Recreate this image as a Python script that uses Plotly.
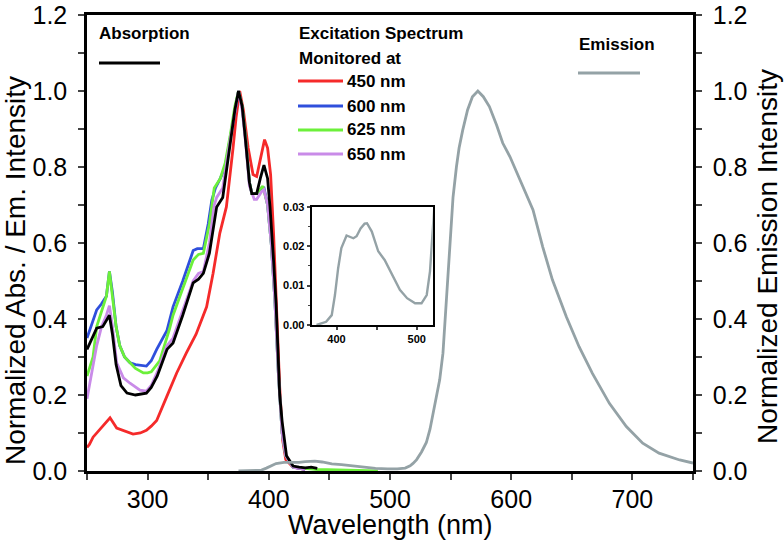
import plotly.graph_objects as go

# ---------------- data ----------------
abs_nm = [250, 254, 258, 263, 266, 268.5, 271, 274, 278, 283, 290, 299, 303, 308, 316, 321, 329,
          337.6, 342, 346, 351, 355, 357, 362, 368, 372, 375, 378, 380, 384, 386, 390, 393, 396,
          399, 401, 404, 406, 409, 411, 414.6, 420, 425, 430, 435, 440]
abs_val = [0.32, 0.35, 0.376, 0.38, 0.395, 0.41, 0.36, 0.28, 0.225, 0.205, 0.2, 0.205, 0.22, 0.25,
           0.32, 0.337, 0.41, 0.495, 0.505, 0.52, 0.573, 0.66, 0.695, 0.72, 0.853, 0.95, 1.0, 0.96,
           0.897, 0.76, 0.73, 0.73, 0.77, 0.805, 0.77, 0.695, 0.55, 0.44, 0.2, 0.13, 0.04, 0.013,
           0.01, 0.008, 0.01, 0.007]

ex450_nm = [250, 252, 255, 258, 260.7, 265, 269, 274.5, 280, 288, 294, 299, 303, 307.5, 315.7, 324,
            332, 340, 348.7, 354, 359.6, 365, 370.5, 373, 376, 379, 383, 387, 390, 393, 396.5, 399,
            401.5, 404, 406.5, 409, 411.5, 414, 420, 430]
ex450_val = [0.062, 0.07, 0.089, 0.1, 0.107, 0.125, 0.14, 0.113, 0.107, 0.097, 0.1, 0.107, 0.118,
             0.133, 0.195, 0.258, 0.311, 0.36, 0.432, 0.52, 0.626, 0.695, 0.85, 0.93, 1.0, 0.95,
             0.85, 0.78, 0.775, 0.82, 0.872, 0.85, 0.78, 0.62, 0.42, 0.22, 0.08, 0.03, 0.01, 0.004]

ex600_nm = [250, 255, 258, 262, 266, 268.5, 271, 274, 277, 281, 285.5, 290, 295, 299, 303, 307.5,
            316, 321, 329, 337.6, 341, 346, 350, 353, 356, 360, 364, 368, 372, 375, 378, 381, 384,
            386, 390, 394, 396, 399, 402, 405, 408, 411, 414, 420, 430]
ex600_val = [0.35, 0.4, 0.424, 0.44, 0.46, 0.525, 0.47, 0.38, 0.33, 0.3, 0.285, 0.28, 0.278, 0.276,
             0.29, 0.32, 0.37, 0.432, 0.5, 0.58, 0.585, 0.585, 0.65, 0.713, 0.745, 0.77, 0.8, 0.87,
             0.95, 1.0, 0.96, 0.87, 0.76, 0.73, 0.73, 0.745, 0.745, 0.7, 0.6, 0.45, 0.25, 0.1, 0.04,
             0.01, 0.004]

ex625_nm = [250, 255, 258, 262, 266, 268.5, 271, 274, 277, 281, 285.5, 290, 296.5, 300, 303, 310,
            318, 321, 329, 337.6, 342, 346, 351, 355, 360, 364, 368, 372, 375, 378, 381, 384, 386,
            390, 395, 399, 402, 405, 408, 411, 414, 420, 440, 460, 480, 490]
ex625_val = [0.25, 0.3, 0.38, 0.42, 0.46, 0.525, 0.46, 0.38, 0.33, 0.3, 0.285, 0.27, 0.258, 0.258,
             0.261, 0.29, 0.373, 0.41, 0.48, 0.555, 0.57, 0.573, 0.65, 0.745, 0.77, 0.81, 0.88,
             0.96, 1.0, 0.96, 0.87, 0.76, 0.73, 0.73, 0.75, 0.7, 0.6, 0.45, 0.25, 0.1, 0.04, 0.01,
             0.004, 0.002, 0.001, 0.0]

ex650_nm = [250, 254, 258, 262, 266, 268.5, 271, 274.5, 280, 285.5, 293.7, 299, 303, 308, 316, 321,
            329, 337.6, 342, 346, 351, 355, 357, 362, 368, 372, 375, 378, 381, 384, 388, 390, 394,
            396, 399, 402, 405, 408, 411, 414, 420, 430]
ex650_val = [0.19, 0.258, 0.33, 0.38, 0.41, 0.435, 0.38, 0.285, 0.245, 0.231, 0.213, 0.21, 0.225,
             0.26, 0.33, 0.35, 0.42, 0.5, 0.52, 0.525, 0.6, 0.7, 0.72, 0.745, 0.87, 0.95, 1.0,
             0.95, 0.86, 0.75, 0.715, 0.715, 0.735, 0.74, 0.7, 0.6, 0.45, 0.25, 0.1, 0.04, 0.01,
             0.004]

em_nm = [375, 387, 394, 398, 402, 406, 412.5, 418, 421, 425, 430, 435, 438, 444, 452, 460, 471,
         479, 488, 498, 506, 512.5, 516.6, 519, 522, 526, 530, 533, 536, 541, 543.7, 546.5, 549.3,
         552, 554.8, 557, 560, 564, 568, 572.5, 577, 582, 588, 593, 599, 607, 612, 618, 626, 634,
         645.5, 656, 667, 681, 695, 708.5, 722, 739, 750]
em_val = [0.0, 0.0008, 0.0025, 0.0076, 0.0144, 0.0195, 0.0227, 0.0222, 0.022, 0.0225, 0.0245,
          0.0257, 0.0258, 0.0237, 0.0187, 0.0165, 0.0123, 0.0089, 0.0068, 0.0055, 0.0055, 0.0076,
          0.0136, 0.02, 0.03, 0.05, 0.075, 0.11, 0.16, 0.24, 0.31, 0.459, 0.59, 0.72, 0.80, 0.85,
          0.897, 0.95, 0.985, 1.0, 0.985, 0.959, 0.91, 0.863, 0.827, 0.766, 0.73, 0.687, 0.59,
          0.503, 0.406, 0.327, 0.257, 0.178, 0.117, 0.073, 0.047, 0.029, 0.021]

x_ticks = [300, 400, 500, 600, 700]
y_ticks = [0.0, 0.2, 0.4, 0.6, 0.8, 1.0, 1.2]
inset_x_ticks = [400, 500]
inset_y_ticks = [0.00, 0.01, 0.02, 0.03]

legend_labels = ["450 nm", "600 nm", "625 nm", "650 nm"]

# ---------------- styling ----------------
RED = "#f52a2a"
BLUE = "#2f4fdc"
GREEN = "#6cf03a"
VIOLET = "#c98be8"
BLACK = "#000000"
GREY = "#94a2a6"
FONT = "Liberation Sans, Arial, sans-serif"
LW = 2.8

fig = go.Figure()

series = [
    (ex450_nm, ex450_val, RED),
    (ex600_nm, ex600_val, BLUE),
    (ex625_nm, ex625_val, GREEN),
    (ex650_nm, ex650_val, VIOLET),
    (abs_nm, abs_val, BLACK),
]
for xs, ys, c in series:
    fig.add_trace(go.Scatter(x=xs, y=ys, mode="lines", line=dict(color=c, width=LW),
                             showlegend=False, hoverinfo="skip"))

fig.add_trace(go.Scatter(x=em_nm, y=em_val, mode="lines", line=dict(color=GREY, width=LW),
                         yaxis="y2", showlegend=False, hoverinfo="skip"))

# inset
fig.add_trace(go.Scatter(x=em_nm, y=em_val, mode="lines", line=dict(color=GREY, width=2.4),
                         xaxis="x3", yaxis="y3", showlegend=False, hoverinfo="skip"))

tickfont = dict(family=FONT, size=25, color="black")
titlefont = dict(family=FONT, size=28, color="black")

common_y = dict(range=[0, 1.2], tickvals=y_ticks, tickformat=".1f", ticks="outside", ticklen=6,
                tickwidth=2, showline=True, linewidth=2.5, linecolor="black", showgrid=False,
                zeroline=False, tickfont=tickfont, automargin=False, ticklabelstandoff=6,
                minor=dict(dtick=0.1, ticks="outside", ticklen=6, tickwidth=2, showgrid=False))

fig.update_layout(
    width=784, height=540,
    margin=dict(l=87, r=91, t=15, b=69),
    plot_bgcolor="white", paper_bgcolor="white",
    xaxis=dict(range=[250, 750], tickvals=x_ticks, ticks="outside", ticklen=6, tickwidth=2,
               showline=True, linewidth=2.5, linecolor="black", mirror=True, showgrid=False,
               zeroline=False, tickfont=tickfont, automargin=False, ticklabelstandoff=-2,
               minor=dict(tickvals=[250, 350, 450, 550, 650, 750], ticks="outside", ticklen=6,
                          tickwidth=2, showgrid=False)),
    yaxis=common_y,
    yaxis2=dict(common_y, overlaying="y", side="right"),
    xaxis3=dict(domain=[0.3708, 0.5705], anchor="y3", range=[369, 520], tickvals=inset_x_ticks,
                ticks="outside", ticklen=3, tickwidth=1.5, showline=True, linewidth=2,
                linecolor="black", mirror=True, showgrid=False, zeroline=False, automargin=False,
                tickfont=dict(family=FONT, size=11, color="black", weight="bold"),
                minor=dict(tickvals=[450], ticks="outside", ticklen=3, tickwidth=1.5)),
    yaxis3=dict(domain=[0.3202, 0.5796], anchor="x3", range=[0, 0.03], tickvals=inset_y_ticks,
                tickformat=".2f", ticks="outside", ticklen=3, tickwidth=1.5, showline=True,
                linewidth=2, linecolor="black", mirror=True, showgrid=False, zeroline=False,
                automargin=False,
                tickfont=dict(family=FONT, size=11, color="black", weight="bold"),
                minor=dict(dtick=0.005, ticks="outside", ticklen=2, tickwidth=1.2)),
)

fig.add_shape(type="rect", xref="x3 domain", yref="y3 domain", x0=0, x1=1, y0=0, y1=1,
              fillcolor="white", line=dict(width=0), layer="below")

# ---------------- pixel helpers for paper placement ----------------
def px2x(px):
    return (px - 87) / 606.0

def py2y(py):
    return (471 - py) / 456.0

# axis titles
fig.add_annotation(text="Wavelength (nm)", x=px2x(390), y=py2y(525), xref="paper", yref="paper",
                   xanchor="center", yanchor="middle", showarrow=False,
                   font=dict(titlefont, size=27))
fig.add_annotation(text="Normalized Abs. / Em. Intensity", x=px2x(15), y=py2y(271),
                   xref="paper", yref="paper", xanchor="center", yanchor="middle",
                   textangle=-90, showarrow=False, font=titlefont)
fig.add_annotation(text="Normalized Emission Intensity", x=px2x(767), y=py2y(257),
                   xref="paper", yref="paper", xanchor="center", yanchor="middle",
                   textangle=-90, showarrow=False, font=titlefont)

# legend drawn as text + line samples
bold = dict(family=FONT, size=17, color="black", weight="bold")

def label(text, px, py):
    fig.add_annotation(text=text, x=px2x(px), y=py2y(py), xref="paper", yref="paper",
                       xanchor="left", yanchor="middle", showarrow=False, font=bold)

def sample(px0, px1, py, color):
    fig.add_shape(type="line", xref="paper", yref="paper", x0=px2x(px0), x1=px2x(px1),
                  y0=py2y(py), y1=py2y(py), line=dict(color=color, width=3))

label("Absorption", 97, 34)
sample(99, 160, 63, BLACK)
label("Excitation Spectrum", 297, 34)
label("Monitored at", 297, 58)
for lab, c, py in zip(legend_labels, [RED, BLUE, GREEN, VIOLET], [81, 106, 130, 154]):
    sample(298, 343, py, c)
    label(lab, 345, py)
label("Emission", 577, 44)
sample(578, 640, 73, GREY)

fig.write_html("out.html", post_script="document.body.style.margin='0';",
               config={"displayModeBar": False})
